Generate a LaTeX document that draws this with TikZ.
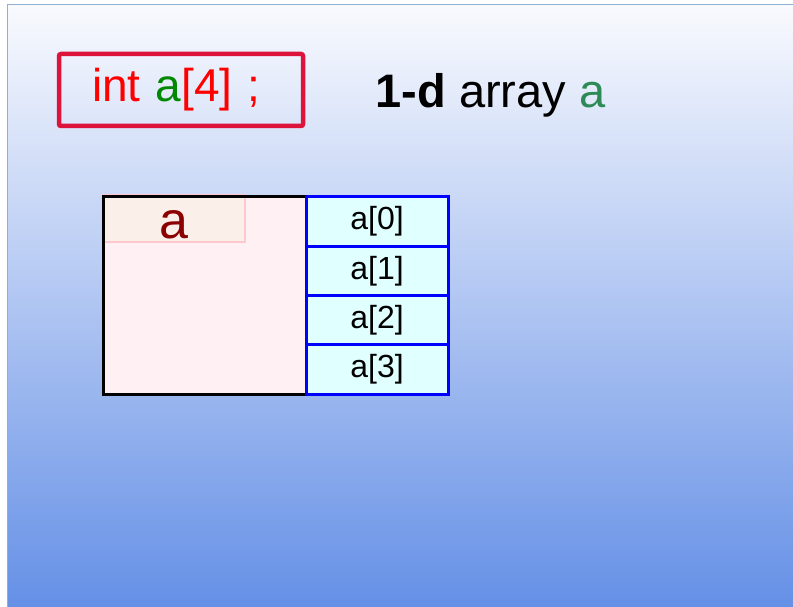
\documentclass[tikz,border=0pt]{standalone}
\usepackage{fontspec}
\setmainfont{Liberation Sans}
\usetikzlibrary{positioning}

\definecolor{declred}{HTML}{DC143C}
\definecolor{vargreen}{HTML}{008800}
\definecolor{titlegreen}{HTML}{2E8B57}
\definecolor{namered}{HTML}{8B0000}
\definecolor{memfill}{HTML}{FFF0F3}
\definecolor{namefill}{HTML}{FBEFEA}
\definecolor{namepink}{HTML}{FFC8CE}
\definecolor{cellfill}{HTML}{E0FFFF}
\definecolor{paneltop}{HTML}{F9FAFE}
\definecolor{panelbot}{HTML}{6590E6}
\definecolor{panelline}{HTML}{8FAFD7}

\tikzset{
  declbox/.style={draw=declred, line width=4.5pt, rounded corners=2pt,
    minimum width=244pt, minimum height=72pt, font=\fontsize{46}{50}\selectfont,
    text=red, inner xsep=33pt, inner ysep=0pt, text width=178pt, align=left},
  membox/.style={fill=memfill, minimum width=203pt, minimum height=197pt,
    outer sep=0pt, inner sep=0pt},
  memline/.style={draw=black, line width=3pt},
  namebox/.style={draw=namepink, fill=namefill, line width=2.5pt,
    minimum width=142pt, minimum height=47pt, outer sep=0pt, inner sep=0pt},
  namelabel/.style={font=\fontsize{52}{54}\selectfont, text=namered,
    anchor=base, inner sep=0pt},
  cell/.style={draw=blue, fill=cellfill, line width=3pt,
    minimum width=142pt, minimum height=49.25pt, outer sep=0pt, inner sep=0pt,
    font=\fontsize{32}{34}\selectfont}
}

\begin{document}
\begin{tikzpicture}[x=1pt,y=-1pt]
\useasboundingbox (0,0) rectangle (793,607);
% slide background
\shade[top color=paneltop, bottom color=panelbot] (7,5) rectangle (793,607);
\draw[panelline, line width=1pt] (7,607) -- (7,5) -- (793,5);

% declaration and title
\node[declbox] (decl) at (181,90) {int \textcolor{vargreen}{a}[4] ;};
\node[anchor=base west, font=\fontsize{47}{50}\selectfont] (title) at (372,108)
  {\textbf{1-d} array \textcolor{titlegreen}{a}};

% the array variable
\node[membox, anchor=north west] (mem) at (103,197) {};
\node[namebox, anchor=north west] (name) at (103,195) {};
\node[namelabel] (namelbl) at (174,238) {a};
\draw[memline] (mem.north west) rectangle (mem.south east);

% elements
\node[cell, anchor=north west] (cell0) at (mem.north east) {a[0]};
\foreach \i [count=\j from 0] in {1,2,3}
  \node[cell, below=0pt of cell\j] (cell\i) {a[\i]};
\end{tikzpicture}
\end{document}
